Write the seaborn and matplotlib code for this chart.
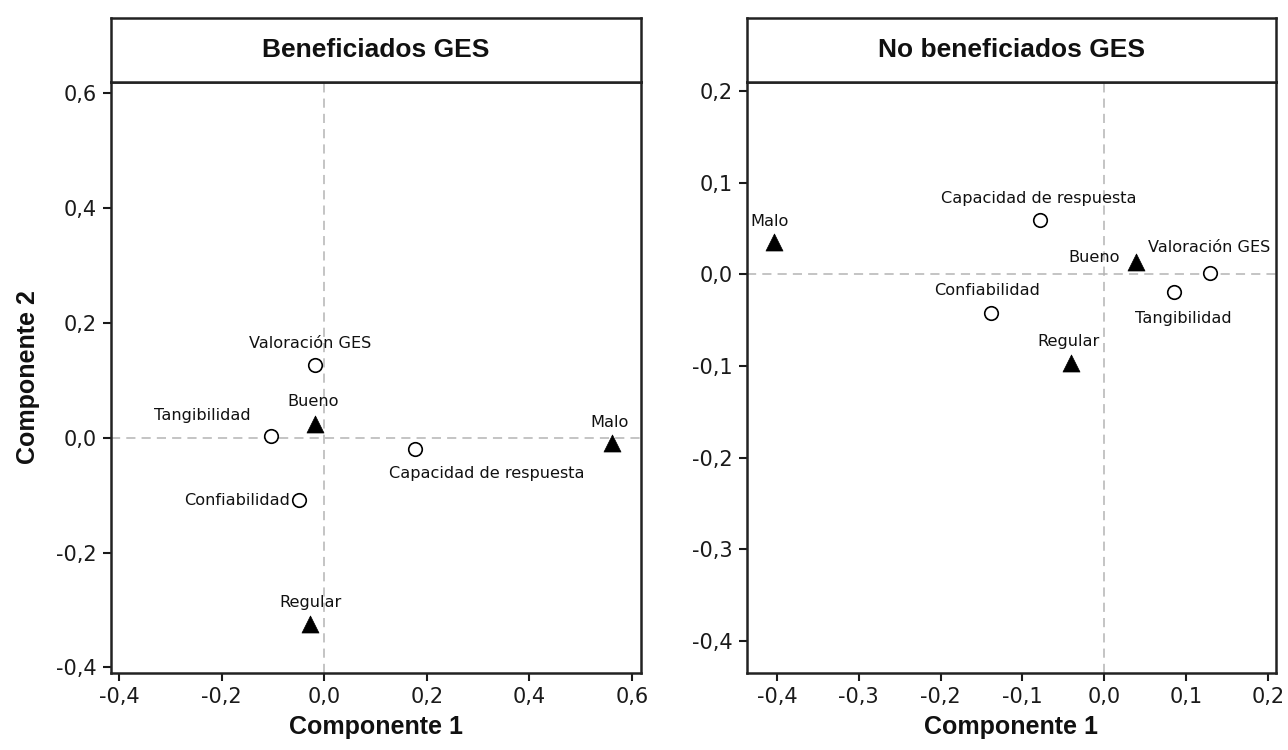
import matplotlib
matplotlib.use("Agg")
import matplotlib.pyplot as plt
import seaborn as sns
import pandas as pd
import numpy as np

# Panel 1: Beneficiados GES
ben_names = ["Valoración GES", "Bueno", "Tangibilidad", "Capacidad de respuesta",
             "Malo", "Confiabilidad", "Regular"]
ben_x = [-0.018, -0.018, -0.104, 0.176, 0.561, -0.049, -0.027]
ben_y = [0.127, 0.024, 0.003, -0.019, -0.009, -0.109, -0.324]
ben_tipo = ["atributo", "nivel", "atributo", "atributo", "nivel", "atributo", "nivel"]

# Panel 2: No beneficiados GES
nob_names = ["Malo", "Capacidad de respuesta", "Bueno", "Valoración GES",
             "Tangibilidad", "Confiabilidad", "Regular"]
nob_x = [-0.404, -0.078, 0.039, 0.129, 0.085, -0.139, -0.041]
nob_y = [0.035, 0.059, 0.014, 0.002, -0.019, -0.042, -0.097]
nob_tipo = ["nivel", "atributo", "nivel", "atributo", "atributo", "atributo", "nivel"]

ben_xticks = [-0.4, -0.2, 0.0, 0.2, 0.4, 0.6]
ben_yticks = [-0.4, -0.2, 0.0, 0.2, 0.4, 0.6]
nob_xticks = [-0.4, -0.3, -0.2, -0.1, 0.0, 0.1, 0.2]
nob_yticks = [-0.4, -0.3, -0.2, -0.1, 0.0, 0.1, 0.2]

# label placement (pixels offset, horizontal alignment)
ben_label_pos = {
    "Valoración GES": (-5, 21, "center"),
    "Bueno": (-2, 22, "center"),
    "Tangibilidad": (-20, 21, "right"),
    "Capacidad de respuesta": (-26, -25, "left"),
    "Malo": (-2, 20, "center"),
    "Confiabilidad": (-9, 0, "right"),
    "Regular": (0, 21, "center"),
}
nob_label_pos = {
    "Malo": (-4, 21, "center"),
    "Capacidad de respuesta": (-2, 22, "center"),
    "Bueno": (-16, 4, "right"),
    "Valoración GES": (-1, 25, "center"),
    "Tangibilidad": (9, -27, "center"),
    "Confiabilidad": (-3, 22, "center"),
    "Regular": (-2, 22, "center"),
}

sns.set_theme(style="white")
plt.rcParams["font.family"] = ["DejaVu Sans"]
body = "DejaVu Sans"
heading = "Liberation Sans"


def fmt(v):
    v = round(v, 1)
    if v == 0:
        v = 0.0
    return f"{v:.1f}".replace(".", ",")


def draw_panel(fig, rect, title, names, xs, ys, tipo, xticks, yticks, xlim, ylim,
               label_pos, ylabel=None):
    left, bottom, width, height = rect
    ax = fig.add_axes([left, bottom, width, height])
    df = pd.DataFrame({"name": names, "x": xs, "y": ys, "tipo": tipo})

    ax.axhline(0, color="#b4b4b4", lw=1.1, ls=(0, (6, 4)), zorder=1)
    ax.axvline(0, color="#b4b4b4", lw=1.1, ls=(0, (6, 4)), zorder=1)

    attr = df[df["tipo"] == "atributo"]
    lev = df[df["tipo"] == "nivel"]
    sns.scatterplot(data=attr, x="x", y="y", ax=ax, marker="o", s=95,
                    facecolor="white", edgecolor="black", linewidth=1.2, zorder=3)
    sns.scatterplot(data=lev, x="x", y="y", ax=ax, marker="^", s=150,
                    color="black", edgecolor="black", linewidth=0.5, zorder=3)

    for _, r in df.iterrows():
        dx, dy, ha = label_pos[r["name"]]
        ax.annotate(r["name"], (r["x"], r["y"]), xytext=(dx, dy),
                    textcoords="offset pixels", ha=ha, va="center",
                    fontsize=11.6, family=body, color="#111111")

    ax.set_xlim(*xlim)
    ax.set_ylim(*ylim)
    ax.set_xticks(xticks)
    ax.set_yticks(yticks)
    ax.set_xticklabels([fmt(v) for v in xticks], family=body)
    ax.set_yticklabels([fmt(v) for v in yticks], family=body)
    ax.tick_params(axis="both", direction="out", length=6, width=1.5,
                   labelsize=15, colors="#1a1a1a", bottom=True, left=True, pad=4)
    for sp in ax.spines.values():
        sp.set_color("#222222")
        sp.set_linewidth(1.8)

    ax.set_xlabel("Componente 1", fontsize=18, fontweight="bold", family=heading,
                  labelpad=6, color="#111111")
    if ylabel:
        ax.set_ylabel(ylabel, fontsize=18, fontweight="bold", family=heading,
                      labelpad=12, color="#111111")
    else:
        ax.set_ylabel("")

    # header strip
    hdr = fig.add_axes([left, bottom + height, width, 64 / 750])
    hdr.set_xticks([])
    hdr.set_yticks([])
    for sp in hdr.spines.values():
        sp.set_color("#222222")
        sp.set_linewidth(1.8)
    hdr.text(0.5, 0.5, title, ha="center", va="center", fontsize=19,
             fontweight="bold", family=heading, color="#111111",
             transform=hdr.transAxes)
    return ax


fig = plt.figure(figsize=(12.88, 7.5), dpi=100)
fig.patch.set_facecolor("white")

ax_h = 591 / 750
ax_b = 77 / 750
draw_panel(fig, [111 / 1288, ax_b, 530 / 1288, ax_h], "Beneficiados GES",
           ben_names, ben_x, ben_y, ben_tipo, ben_xticks, ben_yticks,
           (-0.4156, 0.6175), (-0.41, 0.62), ben_label_pos, ylabel="Componente 2")
draw_panel(fig, [747 / 1288, ax_b, 529 / 1288, ax_h], "No beneficiados GES",
           nob_names, nob_x, nob_y, nob_tipo, nob_xticks, nob_yticks,
           (-0.4365, 0.2097), (-0.435, 0.21), nob_label_pos)

fig.savefig("out.png", dpi=100, facecolor="white")
